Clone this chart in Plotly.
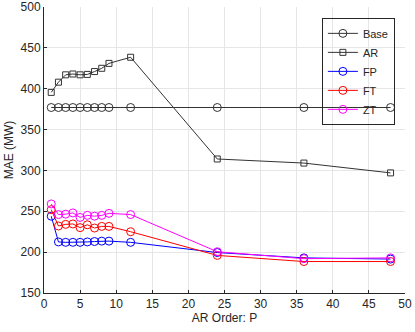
import plotly.graph_objects as go

orders = [1, 2, 3, 4, 5, 6, 7, 8, 9, 12, 24, 36, 48]
base = [377] * 13
ar = [395.5, 408, 417, 418, 417, 417.5, 421, 425, 431, 438.5, 314, 309, 297]
fp = [244, 212.5, 212, 212, 212, 212.5, 213, 213.5, 213.5, 212, 199.5, 193, 191.5]
ft = [252, 232, 234, 234.5, 230, 233.5, 229.5, 231.5, 231.5, 225, 196, 188.5, 188.5]
zt = [259, 246, 246.5, 248, 242.5, 245, 244, 245, 247.5, 246, 200.5, 192, 193]

series = [
    ("Base", base, "#333333", "circle-open", 8),
    ("AR", ar, "#333333", "square-open", 6),
    ("FP", fp, "#0000ff", "circle-open", 8),
    ("FT", ft, "#ff0000", "circle-open", 8),
    ("ZT", zt, "#ff00ff", "circle-open", 8),
]

fig = go.Figure()
for name, vals, col, sym, sz in series:
    fig.add_trace(go.Scatter(
        x=orders, y=vals, name=name, mode="lines+markers",
        line=dict(color=col, width=1),
        marker=dict(symbol=sym, size=sz, color=col, line=dict(color=col, width=1)),
    ))

axis_common = dict(
    showgrid=True, gridcolor="#e6e6e6", gridwidth=1,
    showline=True, linecolor="#262626", linewidth=1,
    ticks="inside", ticklen=3, tickcolor="#262626",
    tickfont=dict(family="Liberation Sans, Arial", size=12, color="#262626"),
    zeroline=False, mirror=False, automargin=False,
)

fig.update_layout(
    width=415, height=332,
    margin=dict(l=44, r=10, t=7, b=39),
    paper_bgcolor="white", plot_bgcolor="white",
    font=dict(family="Liberation Sans, Arial", size=12, color="#262626"),
    xaxis=dict(range=[0, 50], tickvals=[0, 5, 10, 15, 20, 25, 30, 35, 40, 45, 50],
               title=dict(text="AR Order: P", standoff=3, font=dict(size=12)), **axis_common),
    yaxis=dict(range=[150, 500], tickvals=[150, 200, 250, 300, 350, 400, 450, 500],
               title=dict(text="MAE (MW)", standoff=4, font=dict(size=12)), **axis_common),
    legend=dict(x=0.972, y=0.962, xanchor="right", yanchor="top",
                bgcolor="rgba(255,255,255,0)", bordercolor="#262626", borderwidth=1,
                font=dict(size=11), itemwidth=30, tracegroupgap=0),
    showlegend=True,
)

fig.write_html("out.html", config={"displayModeBar": False},
               post_script="document.body.style.margin='0px';")
